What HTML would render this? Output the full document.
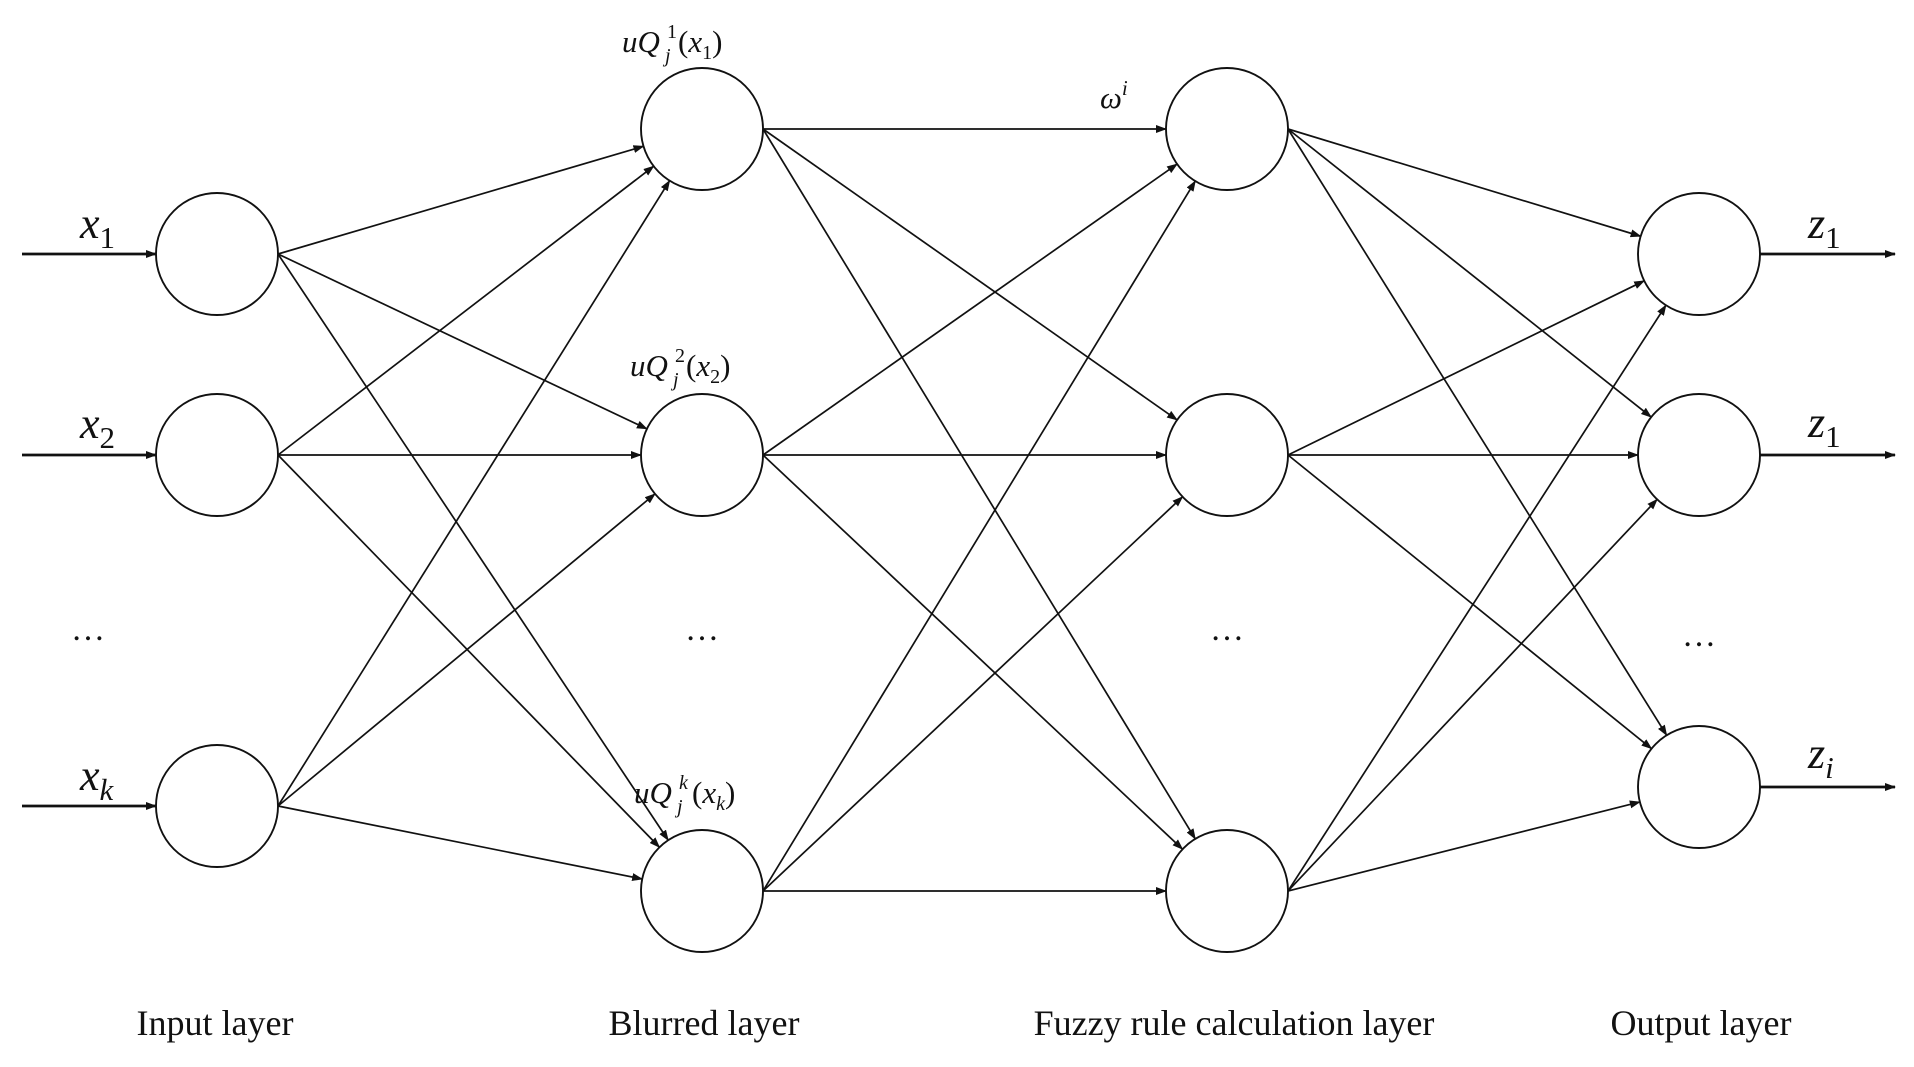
<!DOCTYPE html>
<html><head><meta charset="utf-8"><style>
html,body{margin:0;padding:0;background:#fff;}
svg{display:block;}
text{font-family:"Liberation Serif",serif;fill:#111;}
.m{font-style:italic;}
</style></head><body>
<svg id="s" width="1914" height="1067" viewBox="0 0 1914 1067" xmlns="http://www.w3.org/2000/svg">
<defs>
<marker id="a" markerWidth="11" markerHeight="8" refX="10" refY="4" orient="auto" markerUnits="userSpaceOnUse">
<path d="M0,0 L11,4 L0,8 z" fill="#111"/></marker>
</defs>
<g id="lines" stroke="#111" stroke-width="1.7" fill="none"></g>
<g id="nodes" stroke="#111" stroke-width="1.9" fill="#fff"></g>
<g font-size="44">
<text class="m" x="80" y="238">x<tspan font-size="31" dy="10" font-style="normal">1</tspan></text>
<text class="m" x="80" y="438">x<tspan font-size="31" dy="10" font-style="normal">2</tspan></text>
<text class="m" x="80" y="790">x<tspan font-size="31" dy="10" class="m">k</tspan></text>
<text class="m" x="1808" y="238">z<tspan font-size="31" dy="10" font-style="normal">1</tspan></text>
<text class="m" x="1808" y="437">z<tspan font-size="31" dy="10" font-style="normal">1</tspan></text>
<text class="m" x="1808" y="768">z<tspan font-size="31" dy="10" class="m">i</tspan></text>
</g>
<g font-size="31">
<text class="m" x="622" y="52">uQ</text><text x="667" y="38" font-size="20">1</text><text class="m" x="665" y="62" font-size="20">j</text>
<text x="678" y="52">(<tspan class="m">x</tspan><tspan font-size="20" dy="7">1</tspan><tspan dy="-7">)</tspan></text>
<text class="m" x="630" y="376">uQ</text><text x="675" y="362" font-size="20">2</text><text class="m" x="673" y="386" font-size="20">j</text>
<text x="686" y="376">(<tspan class="m">x</tspan><tspan font-size="20" dy="7">2</tspan><tspan dy="-7">)</tspan></text>
<text class="m" x="634" y="803">uQ</text><text class="m" x="679" y="789" font-size="20">k</text><text class="m" x="677" y="813" font-size="20">j</text>
<text x="692" y="803">(<tspan class="m">x</tspan><tspan class="m" font-size="20" dy="7">k</tspan><tspan dy="-7">)</tspan></text>
<text class="m" x="1100" y="108">ω<tspan font-size="21" dy="-13">i</tspan></text>
</g>
<g font-size="34" text-anchor="middle">
<text x="88" y="640">…</text>
<text x="702" y="640">…</text>
<text x="1227" y="640">…</text>
<text x="1699" y="646">…</text>
</g>
<g font-size="36" text-anchor="middle">
<text x="215" y="1035">Input layer</text>
<text x="704" y="1035">Blurred layer</text>
<text x="1234" y="1035">Fuzzy rule calculation layer</text>
<text x="1701" y="1035">Output layer</text>
</g>
</svg>
<script>
var R=61;
var L=[[217,[254,455,806]],[702,[129,455,891]],[1227,[129,455,891]],[1699,[254,455,787]]];
var ns="http://www.w3.org/2000/svg";
var lg=document.getElementById("lines"),ng=document.getElementById("nodes");
function line(x1,y1,x2,y2,w){var l=document.createElementNS(ns,"line");l.setAttribute("x1",x1);l.setAttribute("y1",y1);l.setAttribute("x2",x2);l.setAttribute("y2",y2);l.setAttribute("marker-end","url(#a)");if(w)l.setAttribute("stroke-width",w);lg.appendChild(l);}
for(var i=0;i<3;i++){var a=L[i],b=L[i+1];
 a[1].forEach(function(y1){var x1=a[0]+R;
  b[1].forEach(function(cy){var dx=b[0]-x1,dy=cy-y1,d=Math.sqrt(dx*dx+dy*dy);
   line(x1,y1,b[0]-R*dx/d,cy-R*dy/d);});});}
L[0][1].forEach(function(y){line(22,y,156,y,2.8);});
L[3][1].forEach(function(y){line(1760,y,1895,y,2.8);});
L.forEach(function(c){c[1].forEach(function(y){var e=document.createElementNS(ns,"circle");e.setAttribute("cx",c[0]);e.setAttribute("cy",y);e.setAttribute("r",R);ng.appendChild(e);});});
</script>
</body></html>
